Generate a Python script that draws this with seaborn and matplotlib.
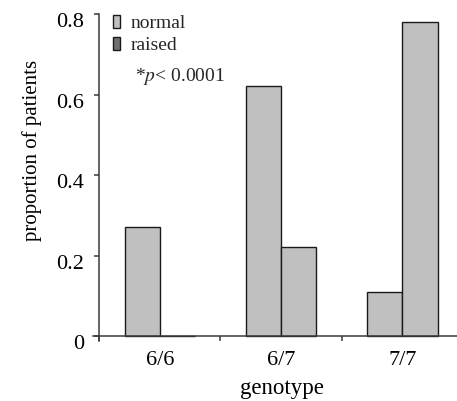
import matplotlib
matplotlib.use("Agg")
import matplotlib.pyplot as plt
from matplotlib.patches import Patch
from matplotlib.transforms import ScaledTranslation
import pandas as pd
import seaborn as sns

# Proportion of patients per genotype, split by status
genotypes = ["6/6", "6/7", "7/7"]
normal = [0.27, 0.62, 0.11]
raised = [0.0, 0.22, 0.78]
statuses = ["normal", "raised"]
y_ticks = [0, 0.2, 0.4, 0.6, 0.8]
y_tick_labels = ["0", "0.2", "0.4", "0.6", "0.8"]

df = pd.DataFrame({
    "genotype": genotypes * 2,
    "status": ["normal"] * len(genotypes) + ["raised"] * len(genotypes),
    "proportion": normal + raised,
})

sns.set_theme(style="ticks")
plt.rcParams["font.family"] = ["Liberation Serif", "DejaVu Serif"]
plt.rcParams["mathtext.fontset"] = "stix"

fig = plt.figure(figsize=(4.57, 4.01), dpi=100)
ax = fig.add_axes([93 / 457, 60 / 401, 364 / 457, 327 / 401])

bar_grey = "#c0c0c0"
sns.barplot(
    data=df, x="genotype", y="proportion", hue="status",
    order=genotypes, hue_order=statuses,
    palette=[bar_grey, bar_grey], width=0.58, gap=0,
    edgecolor="#1a1a1a", linewidth=1.0, legend=False, ax=ax,
)

ax.set_xlim(-0.55, 2.45)
ax.set_ylim(-0.0124, 0.8)

axis_color = "#3a3a3a"
for side in ("top", "right"):
    ax.spines[side].set_visible(False)
ax.spines["left"].set_position(("data", -0.5))
ax.spines["bottom"].set_position(("data", 0))
for side in ("left", "bottom"):
    ax.spines[side].set_color(axis_color)
    ax.spines[side].set_linewidth(1.1)
    ax.spines[side].set_zorder(3)

# y axis
ax.set_yticks(y_ticks)
ax.set_yticklabels(y_tick_labels)
ax.tick_params(axis="y", direction="out", length=3.6, width=1.1,
               color=axis_color, pad=7, labelsize=16, labelcolor="black")
shift = ScaledTranslation(0, -6 / 100, fig.dpi_scale_trans)
for lbl in ax.get_yticklabels():
    lbl.set_transform(lbl.get_transform() + shift)

# x axis: labels at group centres, tick marks between groups
ax.set_xticks(range(len(genotypes)))
ax.set_xticklabels(genotypes)
ax.set_xticks([-0.5, 0.5, 1.5], minor=True)
ax.tick_params(axis="x", which="major", length=0, pad=11, labelsize=16,
               labelcolor="black")
ax.tick_params(axis="x", which="minor", direction="out", length=3.6,
               width=1.1, color=axis_color)

ax.set_xlabel("genotype", fontsize=16.5, color="black")
ax.set_ylabel("proportion of patients", fontsize=15, color="black")
ax.xaxis.set_label_coords(0.518, -0.113)
ax.yaxis.set_label_coords(-0.14, 0.584)

handles = [
    Patch(facecolor=bar_grey, edgecolor="#1a1a1a", linewidth=1.0),
    Patch(facecolor="#707070", edgecolor="#1a1a1a", linewidth=1.0),
]
ax.legend(handles, statuses, loc="upper left", frameon=False,
          bbox_to_anchor=(20 / 364, 0.998), fontsize=14,
          handlelength=0.36, handleheight=0.67, handletextpad=0.55,
          labelspacing=0.25, borderpad=0, borderaxespad=0)

ax.text(135 / 457, 1 - 81 / 401, r"*$p$< 0.0001", transform=fig.transFigure,
        fontsize=14, ha="left", va="baseline")

fig.savefig("out.png", dpi=100)
